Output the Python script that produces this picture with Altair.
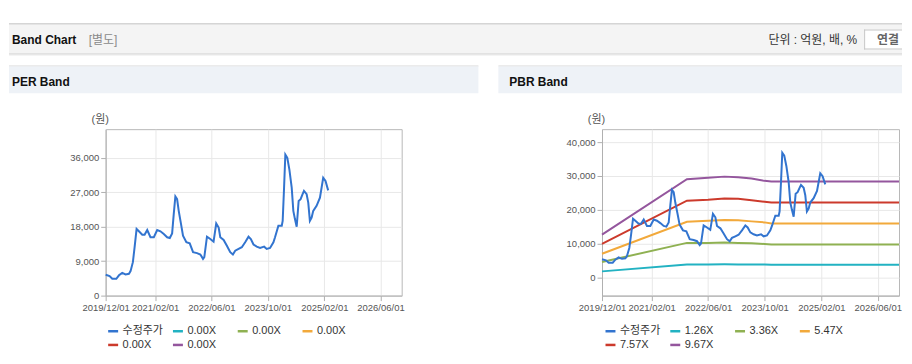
import altair as alt
import pandas as pd

FONT = "'Liberation Sans', 'Noto Sans CJK KR', sans-serif"

# ---------------- data ----------------
PRICE_DATES = ["2019-12-01","2020-01-04","2020-01-27","2020-03-02","2020-03-25","2020-04-22","2020-05-21","2020-06-19",
    "2020-07-03","2020-07-23","2020-08-07","2020-08-24","2020-09-13","2020-10-12","2020-11-01","2020-11-24","2020-12-22",
    "2021-01-20","2021-02-18","2021-03-18","2021-04-16","2021-05-15","2021-06-07","2021-06-27","2021-07-11","2021-07-25",
    "2021-08-09","2021-08-23","2021-09-12","2021-09-29","2021-10-28","2021-11-26","2021-12-25","2022-01-28","2022-02-26",
    "2022-03-21","2022-04-01","2022-04-24","2022-05-23","2022-06-20","2022-07-13","2022-08-03","2022-08-17","2022-09-15",
    "2022-10-13","2022-11-11","2022-12-04","2022-12-24","2023-01-22","2023-02-19","2023-03-20","2023-04-18","2023-05-08",
    "2023-05-31","2023-06-28","2023-07-27","2023-08-31","2023-09-22","2023-10-21","2023-11-19","2023-12-03","2024-01-01",
    "2024-01-30","2024-02-07","2024-02-19","2024-03-01","2024-03-18","2024-04-05","2024-04-25","2024-05-09","2024-05-23",
    "2024-06-07","2024-06-24","2024-07-11","2024-07-28","2024-08-09","2024-09-01","2024-09-15","2024-09-29","2024-10-14",
    "2024-10-28","2024-11-26","2024-12-25","2025-01-22","2025-02-11","2025-03-06"]
PRICE_VALUES = [5450, 5100, 4400, 4400, 5300, 5950, 5550, 5700, 6400, 8750, 12650, 17400, 16800, 15900, 15900, 17150,
    15250, 15250, 17150, 16800, 16100, 15250, 15050, 16250, 21300, 25900, 25200, 22150, 18700, 15650, 13950, 13650,
    11350, 11100, 10750, 9600, 10050, 15400, 14800, 14100, 18850, 17800, 15250, 14550, 13050, 11350, 10750, 11750,
    12200, 12650, 13950, 15400, 14800, 13350, 12800, 12450, 12800, 12200, 12450, 13950, 15250, 18250, 18250, 19550,
    28200, 36850, 36000, 32950, 28200, 22150, 20000, 18000, 24750, 25200, 26500, 27350, 26500, 24300, 19550, 20400,
    22150, 23450, 25600, 30800, 29950, 27500]

BAND_DATES = ["2019-12-01","2021-12-01","2022-06-01","2022-10-20","2023-02-15","2023-06-10","2023-10-01","2023-11-28","2026-12-01"]
PBR_BAND_1 = [1850, 3900, 3900, 3920, 3900, 3880, 3850, 3800, 3800]
PBR_BAND_2 = [4600, 10250, 10250, 10350, 10250, 10150, 9950, 9800, 9800]
PBR_BAND_3 = [7050, 16500, 16800, 17000, 16900, 16600, 16300, 15950, 15950]
PBR_BAND_4 = [9950, 22700, 22950, 23350, 23250, 22850, 22400, 22200, 22200]
PBR_BAND_5 = [12700, 29050, 29500, 29800, 29600, 29250, 28550, 28350, 28350]

SERIES_KEYS = ["수정주가", "b1", "b2", "b3", "b4", "b5"]
PER_LABELS = ["수정주가", "0.00X", "0.00X", "0.00X", "0.00X", "0.00X"]
PBR_LABELS = ["수정주가", "1.26X", "3.36X", "5.47X", "7.57X", "9.67X"]
COLORS = ["#3274cf", "#22b2c2", "#8fb152", "#f2a93b", "#cc3a2c", "#94569d"]

X_TICKS = [(2019, 12), (2021, 2), (2022, 6), (2023, 10), (2025, 2), (2026, 6)]
X_DOMAIN = [(2019, 12), (2026, 12)]
PER_Y_TICKS = [0, 9000, 18000, 27000, 36000]
PER_Y_DOMAIN = [0, 43500]
PBR_Y_TICKS = [0, 10000, 20000, 30000, 40000]
PBR_Y_DOMAIN = [-5300, 43800]

price_df = pd.DataFrame({"date": PRICE_DATES, "value": PRICE_VALUES, "series": SERIES_KEYS[0]})
band_rows = []
for key, vals in zip(SERIES_KEYS[1:], [PBR_BAND_1, PBR_BAND_2, PBR_BAND_3, PBR_BAND_4, PBR_BAND_5]):
    for d, v in zip(BAND_DATES, vals):
        band_rows.append({"date": d, "value": v, "series": key})
band_df = pd.DataFrame(band_rows)

ONE = alt.InlineData(values=[{"k": 0}])


def dt(ym):
    return alt.DateTime(year=ym[0], month=ym[1], date=1, utc=True)


def label_expr(labels):
    expr = "datum.label"
    for k, l in reversed(list(zip(SERIES_KEYS, labels))):
        expr = f"datum.label === '{k}' ? '{l}' : ({expr})"
    return expr


def rect(x, x2, y, y2, color):
    return alt.Chart(ONE).mark_rect(color=color).encode(
        x=alt.value(x), x2=alt.value(x2), y=alt.value(y), y2=alt.value(y2))


def text(s, x, y, size=12, weight="normal", color="#222", align="left"):
    return alt.Chart(ONE).mark_text(text=s, fontSize=size, fontWeight=weight, color=color,
                                    align=align, baseline="alphabetic", font=FONT).encode(
        x=alt.value(x), y=alt.value(y))


def x_enc():
    return alt.X("date:T", scale=alt.Scale(type="utc", domain=[dt(X_DOMAIN[0]), dt(X_DOMAIN[1])]),
                 axis=alt.Axis(title=None, values=[dt(t) for t in X_TICKS],
                               labelExpr="utcFormat(datum.value, '%Y/%m/%d')",
                               labelOverlap=False, labelFlush=False,
                               grid=True, tickSize=5, labelPadding=2))


def y_enc(ticks, domain):
    return alt.Y("value:Q", scale=alt.Scale(domain=domain, nice=False, zero=False),
                 axis=alt.Axis(title="(원)", values=ticks, format=",d", grid=True, tickSize=5,
                               labelPadding=2, titleAngle=0, titleX=-6, titleY=-10,
                               titleAlign="center", titleBaseline="middle",
                               titleFontWeight="normal", titleFontSize=11, titleColor="#555",
                               titleFont=FONT))


def color_enc(labels, lx, ly):
    return alt.Color("series:N", scale=alt.Scale(domain=SERIES_KEYS, range=COLORS),
                     legend=alt.Legend(title=None, orient="none", legendX=lx, legendY=ly,
                                       direction="horizontal", columns=4, symbolType="stroke",
                                       symbolSize=100, symbolStrokeWidth=2.5, labelFontSize=11,
                                       labelFont=FONT, labelColor="#333", columnPadding=4,
                                       rowPadding=2, gridAlign="all", labelOffset=3, padding=0,
                                       labelExpr=label_expr(labels)))


W, H = 297, 167

# ---------- left panel (origin at page 105,128) ----------
left_deco = [
    rect(-97, 799, -106, -105, "#ababab"),
    rect(-97, 799, -105, -76, "#f4f4f4"),
    rect(-97, 799, -76, -75, "#cccccc"),
    rect(-97, 799, -75, -74, "#e9e9e9"),
    text("Band Chart", -94, -85, 12, "bold", "#111"),
    text("[별도]", -17, -85, 12, "normal", "#8a8a8a"),
    text("단위 : 억원, 배, %", 754, -85, 12, "normal", "#333", "right"),
    rect(761, 799, -100, -80, "#ffffff"),
    rect(761, 799, -100, -99, "#c6c6c6"),
    rect(761, 799, -81, -80, "#c6c6c6"),
    rect(761, 762, -100, -80, "#c6c6c6"),
    text("연결", 785, -85, 12, "bold", "#666", "center"),
    rect(-97, 374, -64, -63, "#d8d8d8"),
    rect(-97, 374, -63, -36, "#eef2f7"),
    text("PER Band", -94, -43, 12, "bold", "#111"),
]

left_price = alt.Chart(price_df).mark_line(strokeWidth=2).encode(
    x=x_enc(), y=y_enc(PER_Y_TICKS, PER_Y_DOMAIN), color=color_enc(PER_LABELS, 1, 196))

left = alt.layer(*left_deco, left_price).properties(width=W, height=H)

# ---------- right panel (origin at page 603,128) ----------
right_deco = [
    rect(-104, 301, -64, -63, "#d8d8d8"),
    rect(-104, 301, -63, -36, "#eef2f7"),
    text("PBR Band", -93, -43, 12, "bold", "#111"),
]

right_bands = alt.Chart(band_df).mark_line(strokeWidth=2).encode(
    x=x_enc(), y=y_enc(PBR_Y_TICKS, PBR_Y_DOMAIN), color=color_enc(PBR_LABELS, 2, 196),
    detail="series:N")
right_price = alt.Chart(price_df).mark_line(strokeWidth=2).encode(
    x=x_enc(), y=y_enc(PBR_Y_TICKS, PBR_Y_DOMAIN), color=color_enc(PBR_LABELS, 2, 196))

right = alt.layer(*right_deco, right_bands, right_price).properties(width=W + 1, height=H)

chart = alt.hconcat(left, right, spacing=201, bounds="flush").resolve_scale(
    x="independent", y="independent", color="independent"
).properties(
    padding={"left": 0, "top": 14, "right": 0, "bottom": 0}
).configure(font=FONT).configure_view(stroke="#b8b8b8", strokeWidth=1).configure_axis(
    labelFont=FONT, labelFontSize=9.5, labelColor="#555", gridColor="#e8e8e8",
    domainColor="#b0b0b0", tickColor="#b0b0b0"
)

chart.save("out.html", embed_options={"renderer": "svg", "actions": False})
